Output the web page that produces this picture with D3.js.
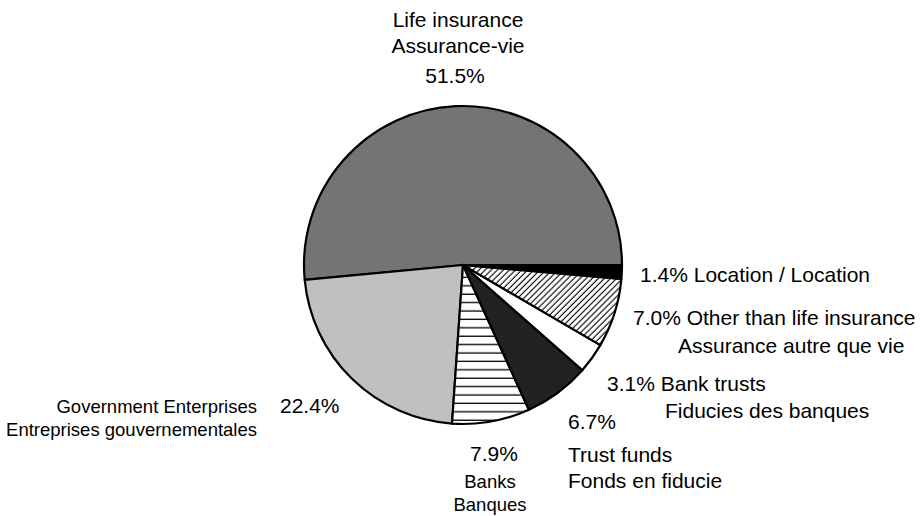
<!DOCTYPE html>
<html>
<head>
<meta charset="utf-8">
<script src="https://cdn.jsdelivr.net/npm/d3@7"></script>
<style>
  body { margin: 0; background: #fff; }
  svg text { font-family: "Liberation Sans", Arial, sans-serif; fill: #000; }
</style>
</head>
<body>
<div id="chart"></div>
<script>
// Slice data (counter-clockwise from 3 o'clock)
var categories = ["Life insurance", "Government Enterprises", "Banks", "Trust funds",
                  "Bank trusts", "Other than life insurance", "Location"];
var shares = [51.5, 22.4, 7.9, 6.7, 3.1, 7.0, 1.4];
var shareLabels = ["51.5%", "22.4%", "7.9%", "6.7%", "3.1%", "7.0%", "1.4%"];
var frenchNames = ["Assurance-vie", "Entreprises gouvernementales", "Banques", "Fonds en fiducie",
                   "Fiducies des banques", "Assurance autre que vie", "Location"];

var W = 923, H = 516,
    cx = 463, cy = 265, R = 159;

var fills = ["#747474", "#c0c0c0", "url(#hlines)", "#222222", "#ffffff", "url(#diag)", "#000000"];

var svg = d3.select("#chart").append("svg")
    .attr("width", W).attr("height", H);

// Hatch patterns
var defs = svg.append("defs");
var ph = defs.append("pattern").attr("id", "hlines")
    .attr("patternUnits", "userSpaceOnUse").attr("width", 8).attr("height", 8.4);
ph.append("rect").attr("width", 8).attr("height", 8.4).attr("fill", "#fff");
ph.append("line").attr("x1", 0).attr("x2", 8).attr("y1", 4).attr("y2", 4)
    .attr("stroke", "#000").attr("stroke-width", 1.3);

var pd = defs.append("pattern").attr("id", "diag")
    .attr("patternUnits", "userSpaceOnUse").attr("width", 4.3).attr("height", 4.3)
    .attr("patternTransform", "rotate(45)");
pd.append("rect").attr("width", 4.3).attr("height", 4.3).attr("fill", "#fff");
pd.append("line").attr("x1", 2).attr("x2", 2).attr("y1", 0).attr("y2", 4.3)
    .attr("stroke", "#000").attr("stroke-width", 1.1);

var pie = d3.pie().sort(null).value(function (d) { return d; })
    .startAngle(Math.PI / 2).endAngle(Math.PI / 2 - 2 * Math.PI);
var arc = d3.arc().innerRadius(0).outerRadius(R);

var g = svg.append("g").attr("transform", "translate(" + cx + "," + cy + ")");
g.selectAll("path").data(pie(shares)).enter().append("path")
    .attr("d", arc)
    .attr("fill", function (d, i) { return fills[i]; })
    .attr("stroke", "#000").attr("stroke-width", 2.2).attr("stroke-linejoin", "round");

// Label layout: x, y, anchor, size per line
function lbl(x, y, txt, anchor, size) {
  svg.append("text").attr("x", x).attr("y", y)
      .attr("text-anchor", anchor || "start")
      .style("font-size", (size || 21) + "px")
      .text(txt);
}

// Life insurance
lbl(458, 27, categories[0], "middle");
lbl(458, 53, frenchNames[0], "middle");
lbl(455, 83, shareLabels[0], "middle");

// Government Enterprises
lbl(257, 413, categories[1], "end", 18.5);
lbl(257, 436, frenchNames[1], "end", 18.5);
lbl(280, 413, shareLabels[1], "start");

// Banks
lbl(494, 461, shareLabels[2], "middle");
lbl(490, 488, categories[2], "middle", 18.5);
lbl(490, 511, frenchNames[2], "middle", 18.5);

// Trust funds
lbl(568, 429, shareLabels[3], "start");
lbl(568, 462, categories[3], "start");
lbl(568, 488, frenchNames[3], "start");

// Bank trusts
lbl(607, 391, shareLabels[4] + " " + categories[4], "start");
lbl(665, 418, frenchNames[4], "start");

// Other than life insurance
lbl(633, 325, shareLabels[5] + " " + categories[5], "start");
lbl(678, 353, frenchNames[5], "start");

// Location
lbl(640, 282, shareLabels[6] + " " + categories[6] + " / " + frenchNames[6], "start");
</script>
</body>
</html>
